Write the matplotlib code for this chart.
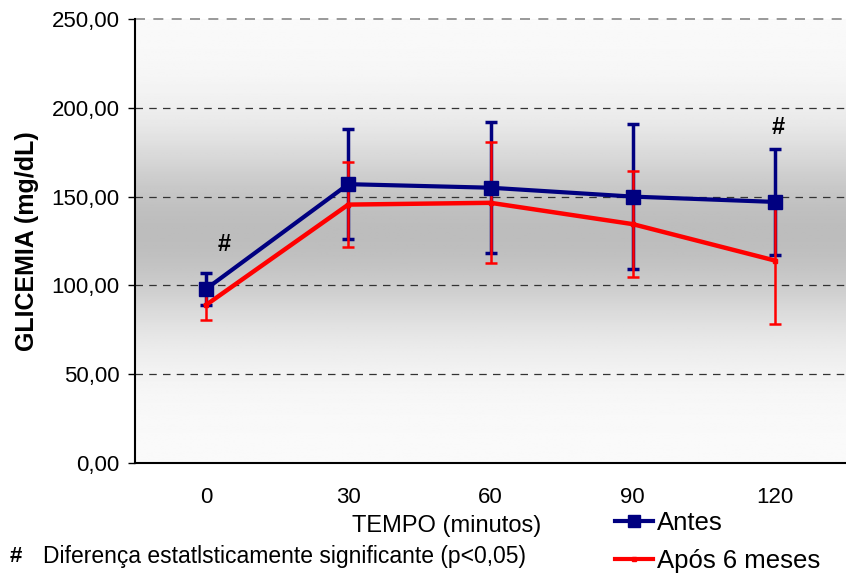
import numpy as np
import matplotlib.pyplot as plt

plt.rcParams['font.family'] = ['Liberation Sans', 'DejaVu Sans']

tempo = ["0", "30", "60", "90", "120"]

antes = [98, 157, 155, 150, 147]
antes_sd = [9, 31, 37, 41, 30]

apos = [89, 145.5, 146.5, 134.5, 114]
apos_sd = [8.5, 24, 34, 30, 35.5]

y_ticks = [0, 50, 100, 150, 200, 250]


def fmt(v):
    return f"{v:.2f}".replace(".", ",")


def main():
    fig = plt.figure(figsize=(8.46, 5.76), dpi=100)
    ax = fig.add_axes([135 / 846, 1 - 463 / 576, 1 - 135 / 846, 444 / 576])
    x = np.arange(len(tempo))

    # grey gradient background, dark in the middle
    t = np.linspace(0, 1, 256)
    shade = 0.98 - 0.24 * np.exp(-((t - 0.48) / 0.22) ** 2)
    grad = np.tile(shade[:, None], (1, 2))
    ax.imshow(grad, cmap="gray", vmin=0, vmax=1, aspect="auto",
              extent=[0, 1, 0, 1], transform=ax.transAxes, zorder=0)

    for v in y_ticks[1:-1]:
        ax.axhline(v, color="#333333", ls=(0, (6, 5)), lw=0.9, zorder=1)
    ax.axhline(250, color="#888888", ls=(0, (6, 5)), lw=1.2, zorder=1, clip_on=False)

    ax.errorbar(x, antes, yerr=antes_sd, color="#000080", lw=3, elinewidth=2.5,
                capsize=4, capthick=2.5, zorder=3)
    ax.errorbar(x, apos, yerr=apos_sd, color="#ff0000", lw=3.2, elinewidth=1.8,
                capsize=4, capthick=1.8, zorder=4)
    ax.plot(x, antes, ls="none", marker="s", ms=10, color="#000080", zorder=5)
    ax.plot(x, apos, ls="none", marker="s", ms=2.5, color="#ff0000", zorder=5)

    # significance marks
    ax.text(x[0] + 0.13, 123, "#", fontsize=17, fontweight="bold",
            ha="center", va="center", zorder=6)
    ax.text(x[4] + 0.02, 189, "#", fontsize=17, fontweight="bold",
            ha="center", va="center", zorder=6)

    ax.set_xlim(-0.5, 4.5)
    ax.set_ylim(0, 250)
    ax.set_yticks(y_ticks)
    ax.set_yticklabels([fmt(v) for v in y_ticks], fontsize=16)
    ax.set_xticks(x)
    ax.set_xticklabels(tempo, fontsize=16)
    ax.tick_params(axis="x", length=0, pad=17)
    ax.tick_params(axis="y", length=5, width=1, pad=6)
    ax.spines["right"].set_visible(False)
    ax.spines["top"].set_visible(False)
    ax.spines["left"].set_linewidth(1.5)
    ax.spines["bottom"].set_linewidth(1.5)

    ax.set_ylabel("GLICEMIA (mg/dL)", fontsize=18, fontweight="bold", labelpad=9)
    fig.text(447 / 846, 1 - 526 / 576, "TEMPO (minutos)", fontsize=17,
             ha="center", va="center")
    fig.text(10 / 846, 1 - 557 / 576, "#", fontsize=16, fontweight="bold",
             ha="left", va="center")
    fig.text(43 / 846, 1 - 557 / 576, "Diferença estatlsticamente significante (p<0,05)",
             fontsize=16.5, ha="left", va="center")

    h1, = plt.plot([], [], color="#000080", lw=3, marker="s", ms=9)
    h2, = plt.plot([], [], color="#ff0000", lw=3, marker="s", ms=2.5)
    leg = fig.legend([h1, h2], ["Antes", "Após 6 meses"], loc="lower left",
                     bbox_to_anchor=(594 / 846, -0.03), fontsize=18.5, frameon=True,
                     handlelength=1.5, handletextpad=0.15, labelspacing=0.55,
                     borderpad=0.3, fancybox=False)
    leg.get_frame().set_facecolor("white")
    leg.get_frame().set_edgecolor("none")

    fig.savefig("out.png", dpi=100)


if __name__ == "__main__":
    main()
